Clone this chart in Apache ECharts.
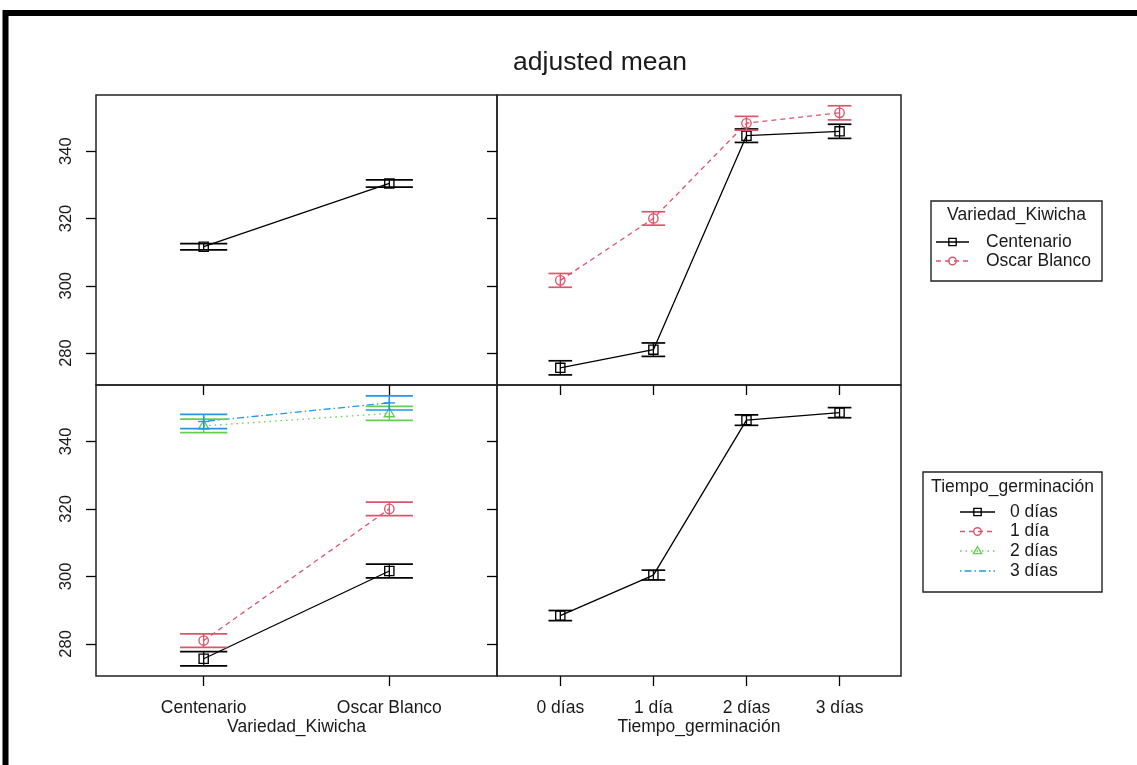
<!DOCTYPE html>
<html>
<head>
<meta charset="utf-8">
<script src="https://cdn.jsdelivr.net/npm/echarts@6/dist/echarts.min.js"></script>
<style>
html,body{margin:0;padding:0;background:#fff;}
#chart{width:1137px;height:765px;}
</style>
</head>
<body>
<div id="chart"></div>
<script>
// ---------- DATA ----------
const variedades = ['Centenario', 'Oscar Blanco'];
const tiempos = ['0 días', '1 día', '2 días', '3 días'];
const yTicks = [280, 300, 320, 340];
const titleText = 'adjusted mean';
const xNameVar = 'Variedad_Kiwicha';
const xNameTiempo = 'Tiempo_germinación';

// main effect of Variedad_Kiwicha (mean, half-width of interval)
const varMean = [311.6, 330.4];
const varHalf = [0.95, 1.1];
// main effect of Tiempo_germinación
const tiempoMean = [288.4, 300.4, 346.3, 348.5];
const tiempoHalf = [1.5, 1.45, 1.55, 1.5];
// interaction: rows Variedad, columns Tiempo
const centenarioMean = [275.6, 281.0, 344.6, 345.9];
const centenarioHalf = [2.1, 2.0, 2.0, 2.1];
const oscarMean = [301.6, 320.0, 348.3, 351.4];
const oscarHalf = [2.05, 2.0, 2.05, 2.1];

// ---------- STYLE ----------
const groupStyles = [
  {color: '#000000', dash: 'solid', shape: 'square'},
  {color: '#DF536B', dash: [5, 4], shape: 'circle'},
  {color: '#61D04F', dash: [1.5, 4], shape: 'triangle'},
  {color: '#2297E6', dash: [1.5, 3, 7, 3], shape: 'plus'}
];
const FONT = 'Liberation Sans, Arial, Helvetica, sans-serif';
const CAP = 0.127;
const Y_MIN = 270.5, Y_MAX = 356.7;

function markerEl(shape, cx, cy, color, s) {
  s = s || 1;
  const st = {fill: 'none', stroke: color, lineWidth: 1.35};
  if (shape === 'square') {
    const h = 4.6 * s;
    return {type: 'rect', shape: {x: cx - h, y: cy - h, width: 2 * h, height: 2 * h}, style: st};
  }
  if (shape === 'circle') {
    return {type: 'circle', shape: {cx: cx, cy: cy, r: 4.7 * s}, style: st};
  }
  if (shape === 'triangle') {
    const r = 5.4 * s;
    return {type: 'polygon', shape: {points: [[cx, cy - r], [cx - r * 0.95, cy + r * 0.62], [cx + r * 0.95, cy + r * 0.62]]}, style: st};
  }
  const r = 5.6 * s;
  return {type: 'group', children: [
    {type: 'line', shape: {x1: cx - r, y1: cy, x2: cx + r, y2: cy}, style: {stroke: color, lineWidth: 1.4}},
    {type: 'line', shape: {x1: cx, y1: cy - r, x2: cx, y2: cy + r}, style: {stroke: color, lineWidth: 1.4}}
  ]};
}

function errorSeries(gridIdx, xs, means, halves, style) {
  return {
    type: 'custom',
    xAxisIndex: gridIdx, yAxisIndex: gridIdx,
    z: 5,
    data: xs.map((x, i) => [x, means[i], halves[i]]),
    encode: {x: 0, y: 1},
    renderItem: function (params, api) {
      const x = api.value(0), m = api.value(1), h = api.value(2);
      const c = api.coord([x, m]);
      const lo = api.coord([x, m - h]);
      const hi = api.coord([x, m + h]);
      const xl = api.coord([x - CAP, m])[0];
      const xr = api.coord([x + CAP, m])[0];
      const ls = {stroke: style.color, lineWidth: 1.7};
      return {type: 'group', children: [
        {type: 'line', shape: {x1: c[0], y1: lo[1], x2: c[0], y2: hi[1]}, style: {stroke: style.color, lineWidth: 1.3}},
        {type: 'line', shape: {x1: xl, y1: lo[1], x2: xr, y2: lo[1]}, style: ls},
        {type: 'line', shape: {x1: xl, y1: hi[1], x2: xr, y2: hi[1]}, style: ls},
        markerEl(style.shape, c[0], c[1], style.color)
      ]};
    }
  };
}

function lineSeries(gridIdx, xs, means, style) {
  return {
    type: 'line',
    xAxisIndex: gridIdx, yAxisIndex: gridIdx,
    data: xs.map((x, i) => [x, means[i]]),
    symbol: 'none',
    lineStyle: {color: style.color, width: 1.3, type: style.dash},
    silent: true, animation: false, z: 3
  };
}

const xVar = variedades.map((_, i) => i + 1);
const xTiempo = tiempos.map((_, i) => i + 1);

const series = [];
// top-left: main effect Variedad
series.push(lineSeries(0, xVar, varMean, groupStyles[0]));
series.push(errorSeries(0, xVar, varMean, varHalf, groupStyles[0]));
// top-right: x = Tiempo, groups = Variedad
const interMeans = [centenarioMean, oscarMean];
const interHalves = [centenarioHalf, oscarHalf];
for (let v = 0; v < variedades.length; v++) {
  series.push(lineSeries(1, xTiempo, interMeans[v], groupStyles[v]));
  series.push(errorSeries(1, xTiempo, interMeans[v], interHalves[v], groupStyles[v]));
}
// bottom-left: x = Variedad, groups = Tiempo
for (let t = 0; t < tiempos.length; t++) {
  const ms = interMeans.map(r => r[t]);
  const hs = interHalves.map(r => r[t]);
  series.push(lineSeries(2, xVar, ms, groupStyles[t]));
  series.push(errorSeries(2, xVar, ms, hs, groupStyles[t]));
}
// bottom-right: main effect Tiempo
series.push(lineSeries(3, xTiempo, tiempoMean, groupStyles[0]));
series.push(errorSeries(3, xTiempo, tiempoMean, tiempoHalf, groupStyles[0]));

// ---------- LAYOUT ----------
const grids = [
  {left: 96, top: 95, width: 401, height: 290},
  {left: 497, top: 95, width: 404, height: 290},
  {left: 96, top: 385, width: 401, height: 291},
  {left: 497, top: 385, width: 404, height: 291}
].map(g => Object.assign({show: true, borderColor: '#222', borderWidth: 1.5, backgroundColor: 'transparent'}, g));

function makeX(idx, cats, min, max, showLabel, name) {
  const vals = cats.map((_, i) => i + 1);
  return {
    type: 'value', gridIndex: idx, min: min, max: max, position: 'bottom',
    axisLine: {show: false}, splitLine: {show: false},
    axisTick: {show: true, inside: false, length: 10, customValues: vals, lineStyle: {color: '#000', width: 1.3}},
    axisLabel: {show: showLabel, customValues: vals, margin: 23, fontSize: 17.5, color: '#1a1a1a', fontFamily: FONT,
      formatter: v => cats[Math.round(v) - 1] || ''},
    name: showLabel ? name : '', nameLocation: 'middle', nameGap: 41,
    nameTextStyle: {fontSize: 17.5, color: '#1a1a1a', fontFamily: FONT}
  };
}
function makeY(idx, showLabel) {
  return {
    type: 'value', gridIndex: idx, min: Y_MIN, max: Y_MAX, position: 'left',
    axisLine: {show: false}, splitLine: {show: false},
    axisTick: {show: true, inside: false, length: 10, customValues: yTicks, lineStyle: {color: '#000', width: 1.3}},
    axisLabel: {show: showLabel, customValues: yTicks, rotate: 90, margin: 21, fontSize: 16.5, color: '#1a1a1a', fontFamily: FONT}
  };
}

const xAxes = [
  makeX(0, variedades, 0.42, 2.58, false, xNameVar),
  makeX(1, tiempos, 0.32, 4.66, false, xNameTiempo),
  makeX(2, variedades, 0.42, 2.58, true, xNameVar),
  makeX(3, tiempos, 0.32, 4.66, true, xNameTiempo)
];
const yAxes = [makeY(0, true), makeY(1, false), makeY(2, true), makeY(3, false)];

// ---------- LEGENDS (graphic) ----------
function legendBlock(box, title, titleY, labels, styles, rowYs, lineX1, lineX2, textX) {
  const els = [];
  els.push({type: 'rect', shape: box, style: {fill: '#fff', stroke: '#222', lineWidth: 1.4}, z: 10});
  els.push({type: 'text', x: box.x + box.width / 2, y: titleY, z: 11,
    style: {text: title, fontSize: 17.5, fontFamily: FONT, fill: '#1a1a1a', align: 'center', verticalAlign: 'middle'}});
  labels.forEach((lab, i) => {
    const st = styles[i], y = rowYs[i];
    els.push({type: 'line', z: 11, shape: {x1: lineX1, y1: y, x2: lineX2, y2: y},
      style: {stroke: st.color, lineWidth: 1.3, lineDash: st.dash === 'solid' ? null : st.dash}});
    const m = markerEl(st.shape, (lineX1 + lineX2) / 2, y, st.color, 0.8);
    m.z = 11;
    els.push(m);
    els.push({type: 'text', x: textX, y: y, z: 11,
      style: {text: lab, fontSize: 17.5, fontFamily: FONT, fill: '#1a1a1a', align: 'left', verticalAlign: 'middle'}});
  });
  return els;
}

const graphics = [];
graphics.push({type: 'rect', shape: {x: 5.5, y: 13, width: 1150, height: 770}, style: {fill: 'none', stroke: '#000', lineWidth: 6}, z: 20});
graphics.push({type: 'text', x: 600, y: 63, style: {text: titleText, fontSize: 26.5, fontFamily: FONT, fill: '#1a1a1a', align: 'center', verticalAlign: 'middle'}});
graphics.push(...legendBlock({x: 931, y: 201, width: 171, height: 80}, xNameVar, 215,
  variedades, groupStyles, [242, 261], 936, 969, 986));
graphics.push(...legendBlock({x: 923, y: 472, width: 179, height: 120}, xNameTiempo, 487,
  tiempos, groupStyles, [512, 531.5, 551, 571], 960, 995, 1010));

const chart = echarts.init(document.getElementById('chart'), null, {renderer: 'canvas'});
chart.setOption({
  backgroundColor: '#fff',
  animation: false,
  textStyle: {fontFamily: FONT},
  grid: grids,
  xAxis: xAxes,
  yAxis: yAxes,
  series: series,
  graphic: {elements: graphics}
});
</script>
</body>
</html>
